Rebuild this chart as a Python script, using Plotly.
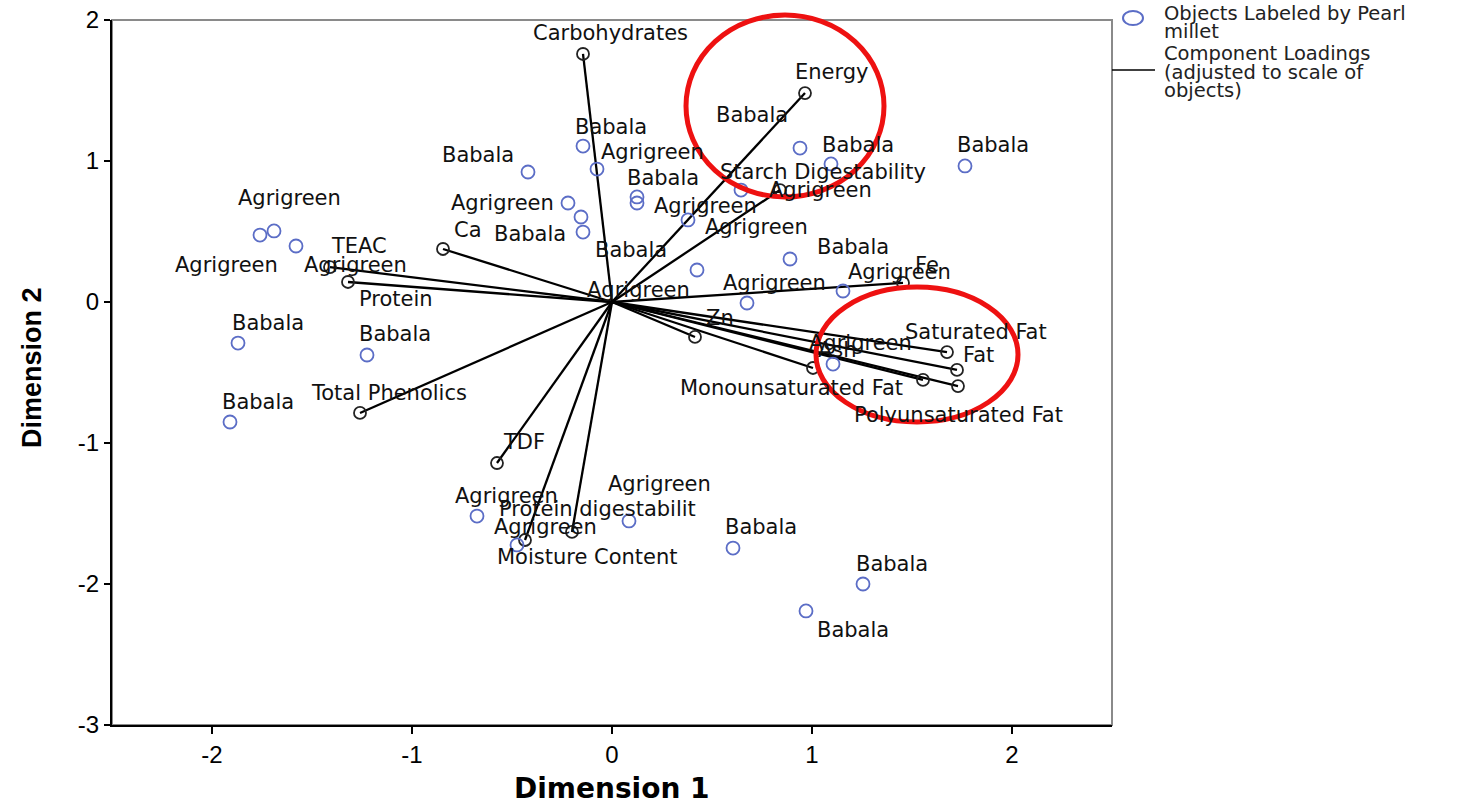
import plotly.graph_objects as go

# ---------------- data ----------------
# Objects (object scores), labelled by Pearl millet variety
obj_labels = ["Babala", "Babala", "Babala", "Babala", "Babala", "Babala", "Babala", "Babala",
              "Babala", "Babala", "Babala", "Babala", "Babala", "Babala", "Babala",
              "Agrigreen", "Agrigreen", "Agrigreen", "Agrigreen", "Agrigreen", "Agrigreen",
              "Agrigreen", "Agrigreen", "Agrigreen", "Agrigreen", "Agrigreen", "Agrigreen",
              "Agrigreen", "Agrigreen", "Agrigreen"]
obj_x = [-0.145, -0.42, 0.94, 1.765, 1.095, 0.125, -0.145, 0.89,
         0.425, -1.87, -1.225, -1.91, 0.605, 1.255, 0.97,
         -1.76, -1.69, -1.58, -0.22, -0.075, -0.155,
         0.125, 0.38, 0.645, 0.675, 1.155, 1.105,
         -0.675, -0.475, 0.085]
obj_y = [1.106, 0.922, 1.092, 0.965, 0.979, 0.745, 0.496, 0.305,
         0.227, -0.291, -0.376, -0.851, -1.745, -2.0, -2.191,
         0.475, 0.504, 0.397, 0.702, 0.943, 0.603,
         0.702, 0.582, 0.794, -0.007, 0.078, -0.44,
         -1.518, -1.723, -1.553]

# Component loadings (adjusted to scale of objects)
var_names = ["Carbohydrates", "Energy", "Starch Digestability", "Fe", "Saturated Fat", "Fat",
             "Polyunsaturated Fat", "Monounsaturated Fat", "Ash", "Zn", "TEAC", "Protein", "Ca",
             "Total Phenolics", "TDF", "Moisture Content", "Protein digestabilit"]
var_x = [-0.145, 0.965, 0.84, 1.455, 1.675, 1.725,
         1.73, 1.555, 1.005, 0.415, -1.41, -1.32, -0.845,
         -1.26, -0.575, -0.435, -0.2]
var_y = [1.759, 1.482, 0.794, 0.135, -0.355, -0.482,
         -0.596, -0.553, -0.468, -0.248, 0.248, 0.142, 0.376,
         -0.787, -1.142, -1.688, -1.631]

x_ticks = [-2, -1, 0, 1, 2]
y_ticks = [-3, -2, -1, 0, 1, 2]
x_title = "Dimension 1"
y_title = "Dimension 2"
legend_objects = ["Objects Labeled by Pearl", "millet"]
legend_loadings = ["Component Loadings", "(adjusted to scale of", "objects)"]

# ---------------- label placement (pixel offsets, styling) ----------------
obj_label_dx = [28, -50, 58, 28, -79, 26, -53, 63, -66, 30, 28, 28, 28, 29, 47,
                29, -48, 59, -66, 55, 57, 68, 68, 79, 27, 56, 27, 29, 28, 30]
obj_label_dy = [19, 17, 3, 21, 49, 19, -2, 12, 20, 20, 21, 20, 21, 20, -19,
                37, -34, -19, 0, 17, -73, -3, -7, 0, 20, 19, 21, 20, 18, 37]
var_label_dx = [27, 27, 43, 24, 29, 21, 0, -132, 24, 25, 29, 48, 25, 29, 27, 62, 25]
var_label_dy = [21, 21, 18, 18, 20, 15, -29, -8, 18, 19, 21, -17, 19, 20, 21, -17, 23]

# highlight ellipses drawn on the picture (data units: x0, x1, y0, y1)
highlights = [(0.37, 1.36, 0.745, 2.035), (1.02, 2.03, -0.851, 0.106)]

XR = [-2.5, 2.5]
YR = [-3, 2]
L, T, PW, PH = 112, 20, 1000, 705
W, H = 1459, 804


def px_to_paper_x(px):
    return (px - L) / PW


def px_to_paper_y(py):
    return (T + PH - py) / PH


def dx_to_paper(x):
    return (x - XR[0]) / (XR[1] - XR[0])


def dy_to_paper(y):
    return (y - YR[0]) / (YR[1] - YR[0])


LABEL_FONT = dict(family="DejaVu Sans", size=21, color="#111111")
BLUE = "#5b6dc6"

fig = go.Figure()

# loading vectors
lx, ly = [], []
for vx, vy in zip(var_x, var_y):
    lx += [0, vx, None]
    ly += [0, vy, None]
fig.add_trace(go.Scatter(x=lx, y=ly, mode="lines",
                         line=dict(color="black", width=2.3),
                         hoverinfo="skip", showlegend=False))
fig.add_trace(go.Scatter(x=var_x, y=var_y, mode="markers", text=var_names,
                         marker=dict(symbol="circle-open", size=12, color="#222222",
                                     line=dict(width=1.8)),
                         showlegend=False, name="Component Loadings"))
fig.add_trace(go.Scatter(x=obj_x, y=obj_y, mode="markers", text=obj_labels,
                         marker=dict(symbol="circle-open", size=13, color=BLUE,
                                     line=dict(width=1.8)),
                         showlegend=False, name="Objects"))

annotations = []
for x, y, t, dx, dy in zip(obj_x, obj_y, obj_labels, obj_label_dx, obj_label_dy):
    annotations.append(dict(x=x, y=y, text=t, showarrow=False, xshift=dx, yshift=dy,
                            xanchor="center", yanchor="middle", font=LABEL_FONT))
for x, y, t, dx, dy in zip(var_x, var_y, var_names, var_label_dx, var_label_dy):
    annotations.append(dict(x=x, y=y, text=t, showarrow=False, xshift=dx, yshift=dy,
                            xanchor="center", yanchor="middle", font=LABEL_FONT))

# axis titles
annotations.append(dict(x=0.5, y=px_to_paper_y(789), xref="paper", yref="paper",
                        text="<b>" + x_title + "</b>", showarrow=False,
                        xanchor="center", yanchor="middle",
                        font=dict(family="DejaVu Sans", size=28, color="black")))
annotations.append(dict(x=px_to_paper_x(32), y=px_to_paper_y(368), xref="paper", yref="paper",
                        text="<b>" + y_title + "</b>", showarrow=False, textangle=-90,
                        xanchor="center", yanchor="middle",
                        font=dict(family="Liberation Sans", size=27, color="black")))

# manual legend
LEG_FONT = dict(family="DejaVu Sans", size=19.5, color="#222222")
for i, t in enumerate(legend_objects):
    annotations.append(dict(x=px_to_paper_x(1162), y=px_to_paper_y(14 + 17 * i),
                            xref="paper", yref="paper", text=t, showarrow=False,
                            xanchor="left", yanchor="middle", font=LEG_FONT))
for i, t in enumerate(legend_loadings):
    annotations.append(dict(x=px_to_paper_x(1162), y=px_to_paper_y(54 + 18 * i),
                            xref="paper", yref="paper", text=t, showarrow=False,
                            xanchor="left", yanchor="middle", font=LEG_FONT))

shapes = [
    dict(type="rect", xref="paper", yref="paper", x0=0, x1=1, y0=0, y1=1,
         line=dict(color="#8a8a8a", width=2), layer="below"),
    dict(type="circle", xref="paper", yref="paper",
         x0=px_to_paper_x(1123), x1=px_to_paper_x(1143),
         y0=px_to_paper_y(25), y1=px_to_paper_y(11),
         line=dict(color=BLUE, width=2)),
    dict(type="line", xref="paper", yref="paper",
         x0=px_to_paper_x(1112), x1=px_to_paper_x(1155),
         y0=px_to_paper_y(70), y1=px_to_paper_y(70),
         line=dict(color="black", width=1.5)),
]
for x0, x1, y0, y1 in highlights:
    shapes.append(dict(type="circle", xref="paper", yref="paper",
                       x0=dx_to_paper(x0), x1=dx_to_paper(x1),
                       y0=dy_to_paper(y0), y1=dy_to_paper(y1),
                       line=dict(color="#ee1111", width=5)))

TICK_FONT = dict(family="Liberation Sans Narrow, Arial Narrow, Liberation Sans", size=24,
                 color="black")
fig.update_layout(
    width=W, height=H,
    margin=dict(l=L, r=W - L - PW, t=T, b=H - T - PH),
    paper_bgcolor="white", plot_bgcolor="white",
    showlegend=False,
    annotations=annotations,
    shapes=shapes,
    xaxis=dict(range=XR, tickvals=x_ticks, ticktext=[str(v) for v in x_ticks],
               showgrid=False, zeroline=False, showline=True, linecolor="black",
               linewidth=2, ticks="outside", ticklen=7, tickwidth=2, tickcolor="black",
               tickfont=TICK_FONT, automargin=False),
    yaxis=dict(range=YR, tickvals=y_ticks, ticktext=[str(v) for v in y_ticks],
               showgrid=False, zeroline=False, showline=True, linecolor="black",
               linewidth=2, ticks="outside", ticklen=6, tickwidth=2, tickcolor="black",
               tickfont=TICK_FONT, automargin=False),
)

fig.write_html("out.html", config={"displayModeBar": False},
               post_script="document.body.style.margin='0';document.body.style.overflow='hidden';")
